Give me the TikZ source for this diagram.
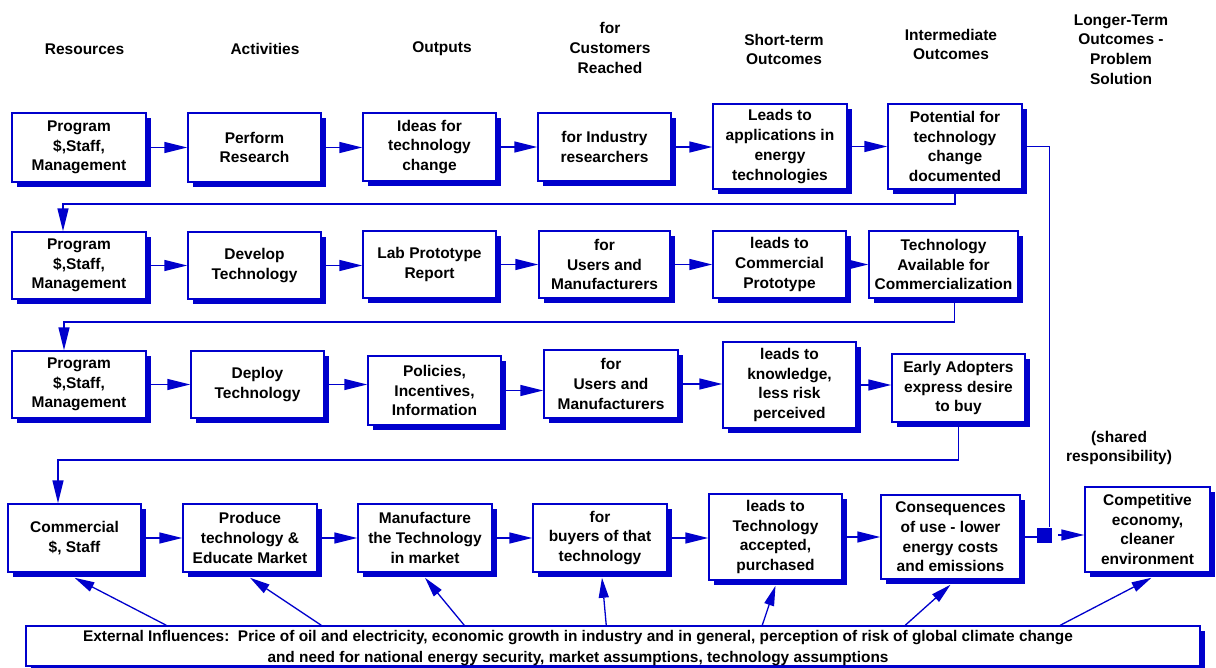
\documentclass[tikz,border=0pt]{standalone}
\usepackage{fontspec}
\setmainfont{Liberation Sans}
\usetikzlibrary{arrows.meta,shadows,calc}
\definecolor{bl}{RGB}{0,0,204}
\begin{document}
\begin{tikzpicture}[x=1pt,y=-1pt,
  font=\fontsize{15.5}{19.7}\selectfont\bfseries,
  box/.style 2 args={draw=bl, line width=1.5pt, fill=white, align=center, inner sep=0pt,
    minimum width=#1pt, minimum height=#2pt,
    drop shadow={shadow xshift=5pt, shadow yshift=-5pt, fill=bl, opacity=1}},
  hdr/.style={align=center, inner sep=0pt},
  line/.style={draw=bl, line width=1.5pt},
  arr/.style={draw=bl, line width=1.5pt, -{Triangle[length=23pt,width=11pt]}},
  earr/.style={draw=bl, line width=1.3pt, -{Triangle[length=20pt,width=10pt]}}]
\useasboundingbox (0,0) rectangle (1216,667);

% headers
\node[hdr] (h1) at (84.5,49) {Resources};
\node[hdr] (h2) at (265,49) {Activities};
\node[hdr] (h3) at (442,49) {Outputs};
\node[hdr] (h4) at (610,48) {for\\Customers\\Reached};
\node[hdr] (h5) at (784,49.5) {Short-term\\Outcomes};
\node[hdr] (h6) at (951,44.5) {Intermediate\\Outcomes};
\node[hdr] (h7) at (1121,49.5) {Longer-Term\\Outcomes -\\Problem\\Solution};
\node[hdr] (h8) at (1119,448) {(shared\\responsibility)};

% row 1
\node[box={134}{69}] (B11) at (79,147.5) {Program\\\$,Staff,\\Management};
\node[box={133}{69}] (B12) at (254.5,147.5) {Perform\\Research};
\node[box={133}{68}] (B13) at (429.5,147) {Ideas for\\technology\\change};
\node[box={133}{68}] (B14) at (604.5,147) {for Industry\\researchers};
\node[box={134}{85}] (B15) at (780,146.5) {Leads to\\applications in\\energy\\technologies};
\node[box={134}{85}] (B16) at (955,146.5) {Potential for\\technology\\change\\documented};

% row 2
\node[box={134}{67}] (B21) at (79,265.5) {Program\\\$,Staff,\\Management};
\node[box={133}{67}] (B22) at (254.5,265.5) {Develop\\Technology};
\node[box={133}{67}] (B23) at (429.5,264.5) {Lab Prototype\\Report};
\node[box={131}{67}] (B24) at (604.5,264.5) {for\\Users and\\Manufacturers};
\node[box={133}{67}] (B25) at (779.5,264.5) {leads to\\Commercial\\Prototype};
\node[box={149}{67}] (B26) at (943.5,264.5) {Technology\\Available for\\Commercialization};

% row 3
\node[box={134}{67}] (B31) at (79,384.5) {Program\\\$,Staff,\\Management};
\node[box={133}{67}] (B32) at (257.5,384.5) {Deploy\\Technology};
\node[box={133}{69}] (B33) at (434.5,390.5) {Policies,\\Incentives,\\Information};
\node[box={134}{68}] (B34) at (611,384) {for\\Users and\\Manufacturers};
\node[box={133}{86}] (B35) at (789.5,385) {leads to\\knowledge,\\less risk\\perceived};
\node[box={133}{68}] (B36) at (958.5,388) {Early Adopters\\express desire\\to buy};

% row 4
\node[box={133}{68}] (B41) at (74.5,538) {Commercial\\\$, Staff};
\node[box={134}{68}] (B42) at (250,538) {Produce\\technology \&\\Educate Market};
\node[box={134}{68}] (B43) at (425,538) {Manufacture\\the Technology\\in market};
\node[box={134}{68}] (B44) at (600,538) {for\\buyers of that\\technology};
\node[box={133}{86}] (B45) at (775.5,537) {leads to\\Technology\\accepted,\\purchased};
\node[box={139}{84}] (B46) at (950.5,537) {Consequences\\of use - lower\\energy costs\\and emissions};
\node[box={125}{85}] (B47) at (1147.5,529.5) {Competitive\\economy,\\cleaner\\environment};

\node[fill=bl, minimum size=15pt, inner sep=0pt] (sq) at (1044.5,535) {};

% external influences
\node[box={1174}{40}] (ext) at (613,646) {};
\node[hdr, font=\fontsize{15.4}{21}\selectfont\bfseries] (extt) at (578,648.5)
  {External Influences:\ \ Price of oil and electricity, economic growth in industry and in general, perception of risk of global climate change\\and need for national energy security, market assumptions, technology assumptions};

% horizontal arrows
\foreach \r in {1,2,3,4}{
  \foreach \a/\b in {1/2,2/3,3/4,4/5,5/6}{
    \draw[arr] (B\r\a.east) -- (B\r\a.east -| B\r\b.west);
  }
}
\draw[line] (B46.east) -- (B46.east -| sq.west);
\draw[arr, shorten <=6pt] (sq.east) -- (sq.east -| B47.west);
\draw[line] (B16.east) -| ([xshift=5pt]sq.north);

% return lines
\draw[arr] (B16.south) -- ++(0,14) -| ([xshift=-16pt]B21.north);
\draw[arr] ([xshift=11pt]B26.south) -- ++(0,23) -| ([xshift=-15pt]B31.north);
\draw[arr] (B36.south) -- ++(0,37) -| ([xshift=-16.5pt]B41.north);

% external arrows
\draw[earr] ($(ext.north west)+(141,0)$) -- ([yshift=-5pt]B41.south);
\draw[earr] ($(ext.north west)+(296,0)$) -- ([yshift=-5pt]B42.south);
\draw[earr] ($(ext.north west)+(439,0)$) -- ([yshift=-5pt]B43.south);
\draw[earr] ($(ext.north west)+(581,0)$) -- ([yshift=-5pt,xshift=2pt]B44.south);
\draw[earr] ($(ext.north west)+(737,0)$) -- ([yshift=-5pt]B45.south);
\draw[earr] ($(ext.north west)+(880,0)$) -- ([yshift=-5pt]B46.south);
\draw[earr] ($(ext.north west)+(1035,0)$) -- ([yshift=-5pt,xshift=4pt]B47.south);
\end{tikzpicture}
\end{document}
